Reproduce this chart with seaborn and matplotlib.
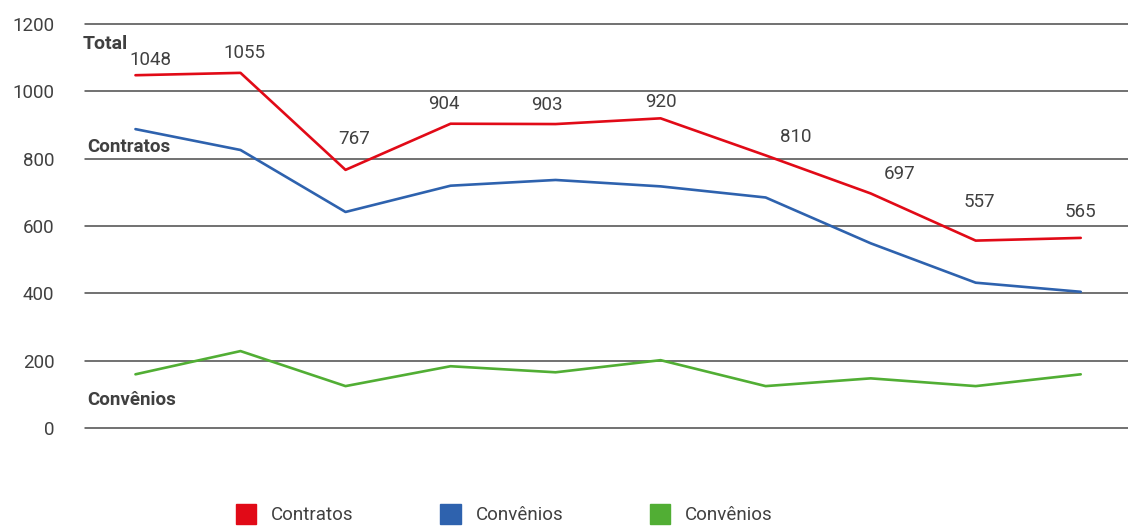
import matplotlib
matplotlib.use("Agg")
import matplotlib.pyplot as plt
from matplotlib.patches import Patch
import seaborn as sns
import numpy as np

# dados (10 períodos, sem rótulo no eixo x)
periodos = list(range(10))
total = [1048, 1055, 767, 904, 903, 920, 810, 697, 557, 565]
convenios = [160, 229, 125, 184, 166, 202, 125, 148, 125, 160]
contratos = [t - c for t, c in zip(total, convenios)]
y_ticks = [0, 200, 400, 600, 800, 1000, 1200]

# deslocamento dos rótulos do total (pontos), só layout
label_dx = [11, 3, 6, -5, -6, 0, 22, 21, 3, 0]
label_dy = [11, 14, 22, 14, 14, 12, 13, 14, 28, 19]

sns.set_style("white")
plt.rcParams['font.family'] = ['Roboto', 'DejaVu Sans']

red = '#E10A17'
blue = '#2E62AE'
green = '#51AE34'
txt = '#404040'
fs = 13.5

fig = plt.figure(figsize=(11.28, 5.28), dpi=100)
ax = fig.add_axes([0.0754, 0.189, 0.9246, 0.7655])

sns.lineplot(x=periodos, y=total, color=red, linewidth=1.9, ax=ax)
sns.lineplot(x=periodos, y=contratos, color=blue, linewidth=1.9, ax=ax)
sns.lineplot(x=periodos, y=convenios, color=green, linewidth=1.9, ax=ax)

for i, v in enumerate(total):
    ax.annotate(str(v), (periodos[i], v), xytext=(label_dx[i], label_dy[i]),
                textcoords='offset points', ha='center', va='center',
                fontsize=fs, color=txt)

ax.set_xlim(-0.48, 9.45)
ax.set_ylim(0, 1200)
ax.set_yticks(y_ticks)
ax.set_xticks([])
ax.tick_params(axis='y', length=0, pad=22, labelsize=fs, labelcolor=txt)
for s in ax.spines.values():
    s.set_visible(False)
for t in y_ticks:
    ax.axhline(t, color='#4a4a4a', linewidth=1.1, zorder=0, clip_on=False)
ax.set_xlabel("")
ax.set_ylabel("")

ax.text(-0.50, 1140, "Total", fontsize=14, fontweight='bold', color=txt, ha='left', va='center')
ax.text(-0.46, 835, "Contratos", fontsize=fs, fontweight='bold', color=txt, ha='left', va='center')
ax.text(-0.46, 85, "Convênios", fontsize=fs, fontweight='bold', color=txt, ha='left', va='center')

handles = [Patch(color=red, label='Contratos'),
           Patch(color=blue, label='Convênios'),
           Patch(color=green, label='Convênios')]
fig.legend(handles=handles, loc='lower left', bbox_to_anchor=(0.194, -0.025),
           ncol=3, frameon=False, fontsize=fs, handlelength=1.1, handleheight=1.2,
           columnspacing=4.6, handletextpad=0.8, labelcolor=txt)

plt.savefig("out.png", dpi=100)
